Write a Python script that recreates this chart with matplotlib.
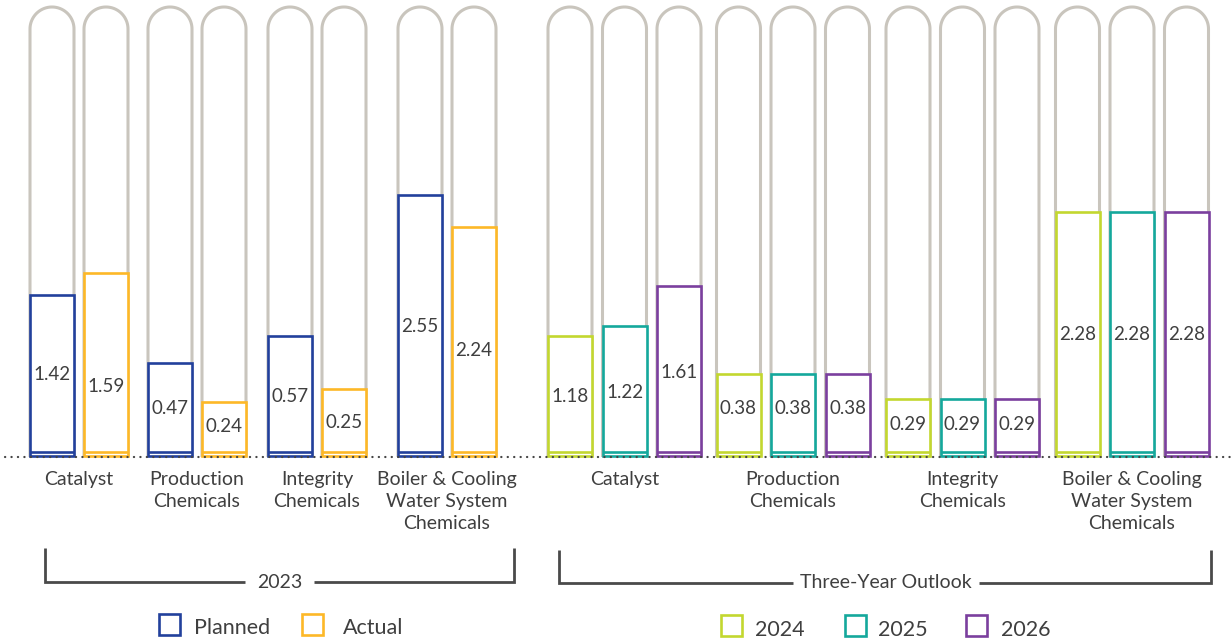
import matplotlib
matplotlib.use("Agg")
import numpy as np
import matplotlib.pyplot as plt
from matplotlib.patches import Rectangle, PathPatch
from matplotlib.path import Path

plt.rcParams['font.family'] = ['Lato', 'DejaVu Sans']

# ---------------- data ----------------
categories = ["Catalyst", "Production\nChemicals", "Integrity\nChemicals",
              "Boiler & Cooling\nWater System\nChemicals"]

planned_values = [1.42, 0.47, 0.57, 2.55]
actual_values = [1.59, 0.24, 0.25, 2.24]
values_2024 = [1.18, 0.38, 0.29, 2.28]
values_2025 = [1.22, 0.38, 0.29, 2.28]
values_2026 = [1.61, 0.38, 0.29, 2.28]

# visual bar heights as drawn in the infographic (not proportional to values)
planned_heights = [162, 94, 121, 262]
actual_heights = [184, 55, 68, 230]
heights_2024 = [121, 83, 58, 245]
heights_2025 = [131, 83, 58, 245]
heights_2026 = [171, 83, 58, 245]

# vertical position of the value label inside each bar (same units as heights)
planned_label_y = [82, 48, 60, 130]
actual_label_y = [71, 30, 35, 106]
label_y_2024 = [60, 48, 32, 123]
label_y_2025 = [65, 48, 32, 123]
label_y_2026 = [85, 48, 32, 123]

group_labels = ["2023", "Three-Year Outlook"]
legend_2023 = ["Planned", "Actual"]
legend_outlook = ["2024", "2025", "2026"]

# ---------------- style ----------------
C_PLANNED = "#22409c"
C_ACTUAL = "#fdb827"
C_2024 = "#c3d72f"
C_2025 = "#14a89c"
C_2026 = "#7b3f9e"
C_PILL = "#c9c5bd"
C_TEXT = "#3f3f3f"
C_LINE = "#4a4a4a"

fig = plt.figure(figsize=(12.32, 6.4), dpi=100)
ax = fig.add_axes([0, 0, 1, 1])
ax.set_xlim(0, 1232)
ax.set_ylim(-183, 457)
ax.axis("off")

BAR_W = 44
PILL_TOP = 450
LW_BAR = 1.9
LW_PILL = 2.2


def pill(xc):
    r = BAR_W / 2
    top = PILL_TOP - r
    t = np.linspace(np.pi, 0, 40)
    verts = [(xc - r, 0), (xc - r, top)]
    verts += [(xc + r * np.cos(a), top + r * np.sin(a)) for a in t]
    verts += [(xc + r, 0)]
    codes = [Path.MOVETO] + [Path.LINETO] * (len(verts) - 1)
    ax.add_patch(PathPatch(Path(verts, codes), fill=False, edgecolor=C_PILL,
                           lw=LW_PILL, zorder=1, capstyle="butt"))


def bar(xc, h, val, ly, color):
    pill(xc)
    ax.add_patch(Rectangle((xc - BAR_W / 2, 1), BAR_W, h - 1, facecolor="white",
                           edgecolor=color, lw=LW_BAR, zorder=2, joinstyle="miter"))
    ax.plot([xc - BAR_W / 2, xc + BAR_W / 2], [5, 5], color=color, lw=LW_BAR,
            zorder=3, solid_capstyle="butt")
    ax.text(xc, ly, f"{val:.2f}", ha="center", va="center",
            fontsize=13.5, color=C_TEXT, zorder=4)


# layout: category centres and bar offsets
cat_x_2023 = [79, 197, 317, 447]
off_2023 = [-27, 27]
cat_x_out = [624.5, 793, 962.5, 1132]
off_out = [-54.5, 0, 54.5]

for i in range(4):
    bar(cat_x_2023[i] + off_2023[0], planned_heights[i], planned_values[i],
        planned_label_y[i], C_PLANNED)
    bar(cat_x_2023[i] + off_2023[1], actual_heights[i], actual_values[i],
        actual_label_y[i], C_ACTUAL)
    for j, (hs, vs, ls, c) in enumerate([(heights_2024, values_2024, label_y_2024, C_2024),
                                         (heights_2025, values_2025, label_y_2025, C_2025),
                                         (heights_2026, values_2026, label_y_2026, C_2026)]):
        bar(cat_x_out[i] + off_out[j], hs[i], vs[i], ls[i], c)

# dotted baseline
ax.plot([5, 1232], [0, 0], color="#444444", lw=1.6, linestyle=(0, (0.1, 2.8)),
        dash_capstyle="round", zorder=6)

# category labels
for xs in (cat_x_2023, cat_x_out):
    for x, lab in zip(xs, categories):
        ax.text(x, -14, lab, ha="center", va="top", fontsize=14, color=C_TEXT,
                linespacing=1.36)

# brackets
def bracket(x0, x1, y_top, y_bot, gap0, gap1, label):
    kw = dict(color=C_LINE, lw=2.0, solid_capstyle="butt", solid_joinstyle="miter")
    ax.plot([x0, x0, gap0], [y_top, y_bot, y_bot], **kw)
    ax.plot([gap1, x1, x1], [y_bot, y_bot, y_top], **kw)
    ax.text((gap0 + gap1) / 2, y_bot, label, ha="center", va="center",
            fontsize=14, color=C_TEXT)

bracket(45, 514, -91, -125, 245, 314, group_labels[0])
bracket(559, 1211, -93, -126, 793, 979, group_labels[1])

# legends
def legend_item(xc, yc, color, label, tx, dy):
    s = 21
    ax.add_patch(Rectangle((xc - s / 2, yc - s / 2), s, s, facecolor="white",
                           edgecolor=color, lw=LW_BAR, joinstyle="miter"))
    ax.text(tx, yc - dy, label, ha="left", va="center", fontsize=15.5, color=C_TEXT)

legend_item(169.5, -167.5, C_PLANNED, legend_2023[0], 194, 3)
legend_item(312.5, -167.5, C_ACTUAL, legend_2023[1], 343, 3)
legend_item(731.5, -168.5, C_2024, legend_outlook[0], 755, 4)
legend_item(855, -168.5, C_2025, legend_outlook[1], 878, 4)
legend_item(976.5, -168.5, C_2026, legend_outlook[2], 1001, 4)

fig.savefig("out.png", dpi=100, facecolor="white")
